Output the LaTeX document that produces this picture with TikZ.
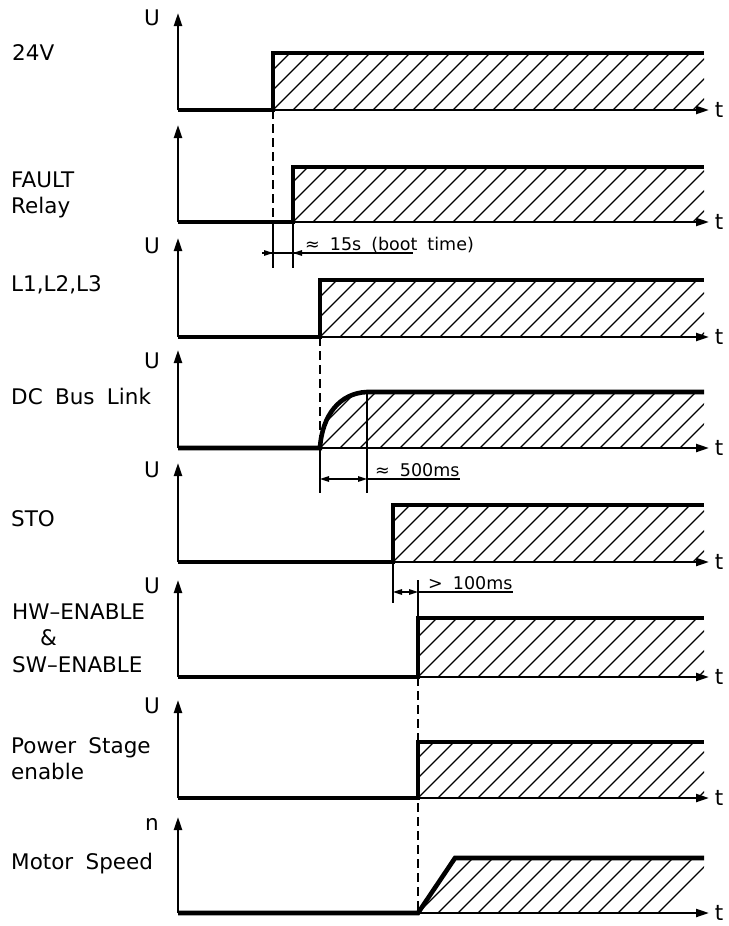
\documentclass[tikz,border=0pt]{standalone}
\usepackage{fontspec}
\setmainfont{DejaVu Sans}[WordSpace=1.8]
\usetikzlibrary{arrows.meta}
\tikzset{
  axis/.style={line width=2.2pt,-{Triangle[length=13pt,width=8pt]}},
  signal/.style={line width=4.6pt,line join=miter},
  hatchline/.style={line width=1.3pt},
  dimline/.style={line width=1.4pt},
  dimarrow/.style={dimline,-{Triangle[length=9pt,width=5.5pt]}},
  guide/.style={line width=1.4pt,dash pattern=on 9pt off 5pt},
  lbl/.style={anchor=base west,inner sep=0pt},
  axlbl/.style={anchor=base,inner sep=0pt},
  dimtext/.style={anchor=base west,inner sep=0pt,font=\fontsize{17.5}{20}\selectfont},
}
\begin{document}
\begin{tikzpicture}[x=1pt,y=-1pt,font=\fontsize{21.5}{26}\selectfont]
\useasboundingbox (0,0) rectangle (728,926);
% axes of the eight traces
\foreach \b/\tp/\n in {110/13/1,222/125/2,337/238/3,448/350/4,562/463/5,677/580/6,798/700/7,913/817/8}{
  \draw[axis] (178,\b) -- (178,\tp);
  \draw[axis] (178,\b) -- (709,\b);
  \node[axlbl] (t\n) at (719,\b+7) {t};
}
\node[axlbl] (u1) at (152,25) {U};
\node[axlbl] (u3) at (152,253) {U};
\node[axlbl] (u4) at (152,368) {U};
\node[axlbl] (u5) at (152,477) {U};
\node[axlbl] (u6) at (152,593) {U};
\node[axlbl] (u7) at (152,713) {U};
\node[axlbl] (n8) at (152,830) {n};
% signal names
\node[lbl] (v24) at (12,60) {24V};
\node[lbl] (fault) at (11,187) {FAULT};
\node[lbl] (relay) at (11,213) {Relay};
\node[lbl] (mains) at (11,291) {L1,L2,L3};
\node[lbl] (dcbus) at (11,404) {DC Bus Link};
\node[lbl] (sto) at (11,526) {STO};
\node[lbl] (hwen) at (12,619) {HW–ENABLE};
\node[lbl] (amp) at (40,645) {\&};
\node[lbl] (swen) at (12,672) {SW–ENABLE};
\node[lbl] (pwr) at (11,753) {Power Stage};
\node[lbl] (pwren) at (11,779) {enable};
\node[lbl] (motor) at (11,869) {Motor Speed};
% step traces with hatching
\foreach \b/\h/\r in {110/53/273,222/167/293,337/280/320,562/505/393,677/618/418,798/742/418}{
  \begin{scope}
    \clip (\r,\b) rectangle (704,\h);
    \foreach \k in {0,...,26} \draw[hatchline] (\r-80+20*\k,\b) -- ++(80,-80);
  \end{scope}
  \draw[signal] (178,\b) -- (\r,\b) -- (\r,\h) -- (704,\h);
}
% DC bus: charging curve
\begin{scope}
  \clip (320,448) .. controls (322,415) and (340,393) .. (367,392) -- (704,392) -- (704,448) -- cycle;
  \foreach \k in {0,...,22} \draw[hatchline] (240+20*\k,448) -- ++(80,-80);
\end{scope}
\draw[signal] (178,448) -- (320,448) .. controls (322,415) and (340,393) .. (367,392) -- (704,392);
% motor speed: ramp
\begin{scope}
  \clip (418,913) -- (455,858) -- (704,858) -- (704,913) -- cycle;
  \foreach \k in {0,...,16} \draw[hatchline] (338+20*\k,913) -- ++(80,-80);
\end{scope}
\draw[signal] (178,913) -- (418,913) -- (455,858) -- (704,858);
% dashed guides and extension lines
\draw[guide] (273,110) -- (273,222);
\draw[guide] (320,337) -- (320,448);
\draw[guide] (418,677) -- (418,913);
\draw[dimline] (273,222) -- (273,268);
\draw[dimline] (293,222) -- (293,268);
\draw[dimline] (320,448) -- (320,493);
\draw[dimline] (367,392) -- (367,493);
\draw[dimline] (393,562) -- (393,603);
\draw[dimline] (418,580) -- (418,618);
% time intervals
\draw[dimline] (262,253) -- (413,253);
\draw[dimarrow] (262,253) -- (273,253);
\draw[dimarrow] (304,253) -- (293,253);
\node[dimtext] (boot) at (305,250) {≈ 15s (boot time)};
\draw[dimline] (367,479) -- (460,479);
\draw[dimarrow] (344,479) -- (320,479);
\draw[dimarrow] (344,479) -- (367,479);
\node[dimtext] (dcdelay) at (375,476) {≈ 500ms};
\draw[dimline] (418,592) -- (513,592);
\draw[dimarrow] (405,592) -- (393,592);
\draw[dimarrow] (405,592) -- (418,592);
\node[dimtext] (endelay) at (428,589) {> 100ms};
\end{tikzpicture}
\end{document}
